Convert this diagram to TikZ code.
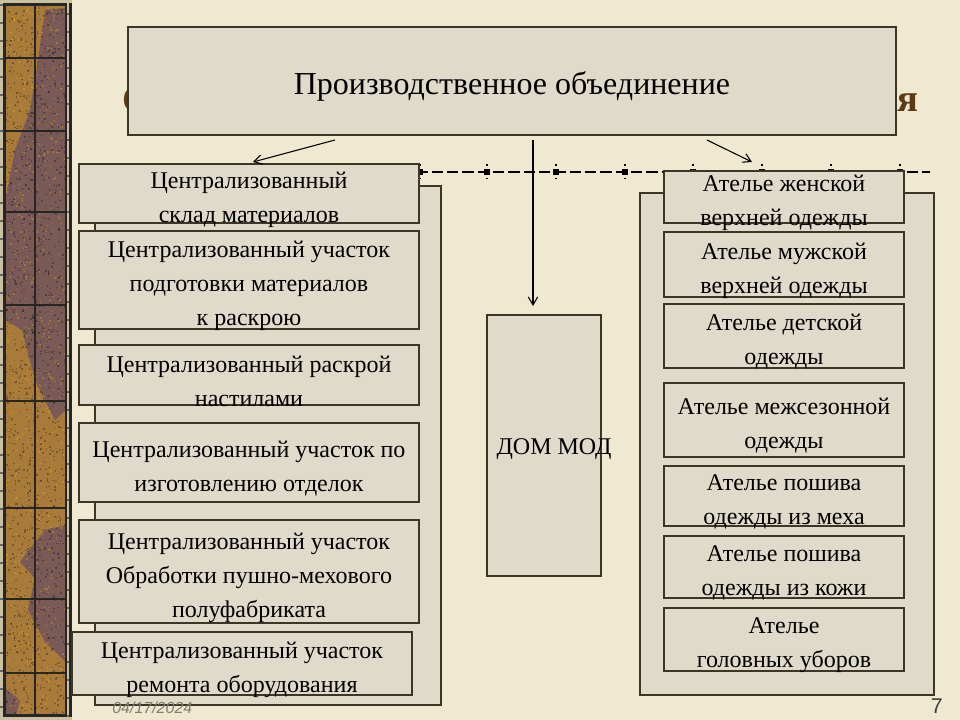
\documentclass[tikz,border=0pt]{standalone}
\usepackage{fontspec}
\setmainfont{Liberation Serif}
\newfontfamily\footsans{Liberation Sans}
\usetikzlibrary{arrows.meta,calc}
\definecolor{parch}{HTML}{EEE9D0}
\definecolor{boxfill}{HTML}{E0DACA}
\definecolor{edge}{HTML}{3D3526}
\definecolor{woodbrown}{HTML}{A87B3A}
\definecolor{woodpurple}{HTML}{7A5A56}
\definecolor{titlebrown}{HTML}{5B3A14}
\definecolor{pebble}{HTML}{C9C1A2}
\definecolor{footgray}{HTML}{807E70}
\newcommand\bxn[6]{\node[box, minimum width={(#4-#2)*0.75pt}, minimum height={(#5-#3)*0.75pt}] (#1) at ({(#2+#4)/2},{(#3+#5)/2}) {};
  \node[boxtext] (#1t) at ($(#1.center)+(0,6)$) {#6};}
\begin{document}
\begin{tikzpicture}[x=0.75pt,y=-0.75pt,
  box/.style={draw=edge, line width=1.1pt, fill=boxfill, inner sep=0pt, outer sep=0pt},
  boxtext/.style={inner sep=0pt, align=center, font=\fontsize{18}{25.5}\selectfont},
  arr/.style={draw=black, line width=0.8pt, -{Straight Barb[length=6pt,width=7pt]}},
  grid line/.style={draw=black!85, line width=0.8pt}]
\useasboundingbox (0,0) rectangle (960,720);
% background
\fill[parch] (0,0) rectangle (960,720);
% left wooden strip
\fill[black!85] (0,0) rectangle (72,720);
\fill[pebble] (0,0) rectangle (3,720);
\fill[pebble] (0,0) rectangle (72,3);
\fill[pebble] (0,717) rectangle (72,720);
\fill[pebble] (67,0) rectangle (69,720);
\foreach \y in {4,22,...,716} {\fill[black!60] (0,\y) rectangle (2.5,\y+2); \fill[black!60] (67,\y+9) rectangle (69,\y+11);}
\fill[woodbrown] (5,5) rectangle (66,715);
\fill[woodpurple] (45,10) -- (66,8) -- (66,410) -- (55,420) -- (35,380) -- (22,330) -- (5,320) -- (5,200) -- (15,150) -- (30,110) -- (38,60) -- cycle;
\fill[woodpurple] (66,525) -- (45,530) -- (25,555) -- (20,562) -- (35,578) -- (28,610) -- (45,642) -- (66,662) -- cycle;
\fill[woodpurple] (5,688) -- (20,700) -- (16,715) -- (5,715) -- cycle;
\pgfmathsetseed{7}
\foreach \i in {1,...,1400} {
  \pgfmathsetmacro\xx{5+60*rnd}
  \pgfmathsetmacro\yy{5+708*rnd}
  \fill[black, opacity=0.28] (\xx,\yy) rectangle (\xx+1.5,\yy+1.5);
}
\foreach \i in {1,...,700} {
  \pgfmathsetmacro\xx{5+60*rnd}
  \pgfmathsetmacro\yy{5+708*rnd}
  \fill[orange!60!yellow, opacity=0.3] (\xx,\yy) rectangle (\xx+1.5,\yy+1.5);
}
\draw[grid line] (35,5) -- (35,715);
\foreach \y in {58,131,212,305,401,508,599,673} \draw[grid line] (5,\y) -- (66,\y);
\draw[grid line] (5,5) rectangle (66,715);
% hidden title glyphs
\node[anchor=base west, inner sep=0pt, text=titlebrown, font=\fontsize{29}{29}\bfseries\selectfont] (tS) at (122,113) {С};
\node[anchor=base west, inner sep=0pt, text=titlebrown, font=\fontsize{29}{29}\bfseries\selectfont] (tja) at (897,112) {я};
% dashed line
\coordinate (dl) at (79,172);
\coordinate (dr) at (930,172);
\draw[line width=1.5pt, dash pattern=on 8.5pt off 3pt] (dl) -- (dr);
\foreach \x in {420,487,556,625,693,762,831,900} {
  \fill (\x-3,169) rectangle (\x+3,175);
  \fill (\x-0.6,164.5) rectangle (\x+0.6,166);
  \fill (\x-0.6,178) rectangle (\x+0.6,179.5);
}
% panels
\node[box, minimum width={346*0.75pt}, minimum height={519*0.75pt}] (lp) at (268,445.5) {};
\node[box, minimum width={294*0.75pt}, minimum height={502*0.75pt}] (rp) at (787,444) {};
% top box
\node[box, minimum width={768*0.75pt}, minimum height={108*0.75pt}] (top) at (512,81) {};
\node[boxtext, font=\fontsize{24}{28}\selectfont] (topt) at ($(top.center)+(0,5)$) {Производственное объединение};
% left boxes
\bxn{l1}{79}{164}{419}{223}{Централизованный\\склад материалов}
\bxn{l2}{79}{231}{419}{329}{Централизованный участок\\подготовки материалов\\к раскрою}
\bxn{l3}{79}{345}{419}{405}{Централизованный раскрой\\настилами}
\bxn{l4}{79}{423}{419}{502}{Централизованный участок по\\изготовлению отделок}
\bxn{l5}{79}{520}{419}{623}{Централизованный участок\\Обработки пушно-мехового\\полуфабриката}
\bxn{l6}{72}{632}{412}{695}{Централизованный участок\\ремонта оборудования}
% middle
\node[box, minimum width={114*0.75pt}, minimum height={261*0.75pt}] (dom) at (544,445.5) {};
\node[boxtext] (domtxt) at (554,449) {ДОМ МОД};
% right boxes
\bxn{r1}{664}{171}{904}{223}{Ателье женской\\верхней одежды}
\bxn{r2}{664}{232}{904}{297}{Ателье мужской\\верхней одежды}
\bxn{r3}{664}{304}{904}{368}{Ателье детской\\одежды}
\bxn{r4}{664}{383}{904}{457}{Ателье межсезонной\\одежды}
\bxn{r5}{664}{466}{904}{526}{Ателье пошива\\одежды из меха}
\bxn{r6}{664}{536}{904}{598}{Ателье пошива\\одежды из кожи}
\bxn{r7}{664}{608}{904}{671}{Ателье\\головных уборов}
% arrows
\draw[arr] ($(top.south)+(-177,5)$) -- ($(l1.north)+(4,-2)$);
\draw[arr] ($(top.south)+(21,5)$) -- ($(dom.north)+(-11,-9)$);
\draw[arr] ($(top.south)+(195,5)$) -- ($(r1.north)+(-32,-9)$);
% footer
\node[anchor=base west, inner sep=0pt, text=footgray, font=\footsans\itshape\fontsize{12}{12}\selectfont] (date) at (112,713) {04/17/2024};
\node[anchor=base east, inner sep=0pt, text=black!75, font=\footsans\fontsize{16}{16}\selectfont] (pnum) at (943,713) {7};
\end{tikzpicture}
\end{document}
